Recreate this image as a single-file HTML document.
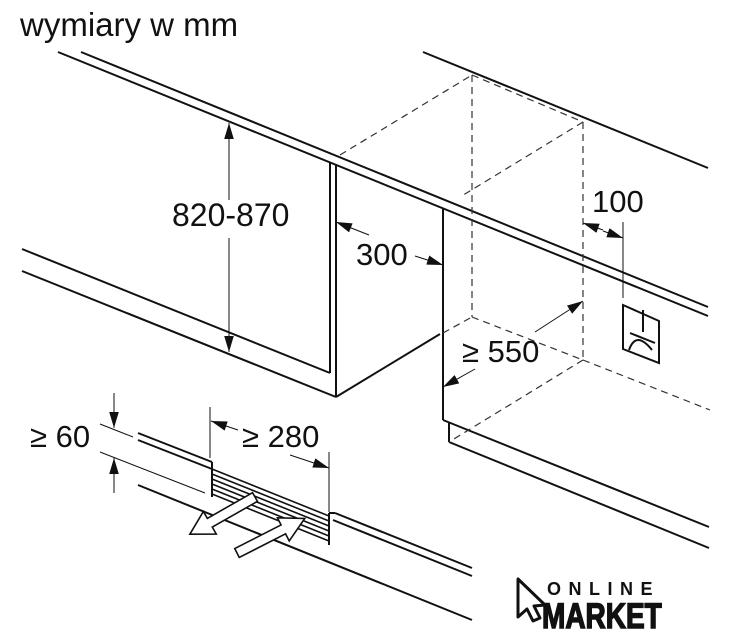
<!DOCTYPE html>
<html><head><meta charset="utf-8"><style>
html,body{margin:0;padding:0;background:#fff}
svg{display:block}
text{font-family:"Liberation Sans",sans-serif;fill:#111}
</style></head><body>
<svg width="730" height="640" viewBox="0 0 730 640" xmlns="http://www.w3.org/2000/svg">
<defs>
<marker id="ahL" viewBox="0 0 10 10" refX="10" refY="5" markerWidth="16" markerHeight="16" markerUnits="userSpaceOnUse" orient="auto"><path d="M0,2 L10,5 L0,8 Z" fill="#111"/></marker>
</defs>
<text x="20" y="36" font-size="33">wymiary w mm</text>

<g stroke="#111" stroke-width="2" fill="none">
<line x1="81" y1="52" x2="708" y2="307"/>
<line x1="58" y1="52" x2="708" y2="316"/>
<line x1="423" y1="52" x2="708" y2="168"/>
<line x1="330" y1="163" x2="330" y2="373"/>
<line x1="336" y1="165" x2="336" y2="397"/>
<line x1="22" y1="249" x2="330" y2="373"/>
<line x1="22" y1="271" x2="336" y2="397"/>
<line x1="336" y1="397" x2="440" y2="334"/>
<line x1="443" y1="208" x2="443" y2="420"/>
<line x1="443" y1="420" x2="709" y2="527"/>
<line x1="449" y1="422" x2="449" y2="442"/>
<line x1="449" y1="442" x2="709" y2="548"/>
<line x1="138" y1="433" x2="212" y2="462"/>
<line x1="138" y1="440" x2="212" y2="469"/>
<line x1="212" y1="462" x2="212" y2="497"/>
<line x1="138" y1="485" x2="472" y2="620"/>
<line x1="329" y1="513" x2="335" y2="513"/>
<line x1="335" y1="513" x2="472" y2="568"/>
<line x1="333" y1="520" x2="472" y2="576"/>
<line x1="329" y1="513" x2="329" y2="545"/>
</g>
<g stroke="#111" stroke-width="1.6">
<line x1="212" y1="469" x2="329" y2="516"/>
<line x1="212" y1="474" x2="329" y2="521"/>
<line x1="212" y1="479" x2="329" y2="526"/>
<line x1="212" y1="484" x2="329" y2="531"/>
<line x1="212" y1="489" x2="329" y2="536"/>
<line x1="212" y1="494" x2="329" y2="541"/>
</g>
<g stroke="#333" stroke-width="1.2" fill="none" stroke-dasharray="7,5">
<line x1="340" y1="155" x2="472" y2="75"/>
<line x1="472" y1="75" x2="583" y2="122"/>
<line x1="583" y1="122" x2="460" y2="197"/>
<line x1="472" y1="75" x2="472" y2="317"/>
<line x1="583" y1="122" x2="583" y2="360"/>
<line x1="472" y1="317" x2="583" y2="360"/>
<line x1="443" y1="333" x2="472" y2="317"/>
<line x1="583" y1="360" x2="710" y2="410"/>
<line x1="583" y1="360" x2="449" y2="442"/>
</g>
<g stroke="#111" stroke-width="1" fill="none">
<line x1="229" y1="200" x2="229" y2="123" marker-end="url(#ahL)"/>
<line x1="229" y1="238" x2="229" y2="352" marker-end="url(#ahL)"/>
<line x1="369" y1="235" x2="336" y2="222" marker-end="url(#ahL)"/>
<line x1="415" y1="256" x2="443" y2="265" marker-end="url(#ahL)"/>
<line x1="623" y1="222" x2="623" y2="298"/>
<line x1="603" y1="230" x2="583" y2="223" marker-end="url(#ahL)"/>
<line x1="603" y1="231" x2="623" y2="238" marker-end="url(#ahL)"/>
<line x1="535" y1="332" x2="583" y2="301" marker-end="url(#ahL)"/>
<line x1="475" y1="369" x2="443" y2="387" marker-end="url(#ahL)"/>
<line x1="114" y1="393" x2="114" y2="428" marker-end="url(#ahL)"/>
<line x1="114" y1="493" x2="114" y2="458" marker-end="url(#ahL)"/>
<line x1="100" y1="424" x2="133" y2="437"/>
<line x1="100" y1="452" x2="205" y2="493"/>
<line x1="210" y1="407" x2="210" y2="458"/>
<line x1="329" y1="452" x2="329" y2="512"/>
<line x1="238" y1="430" x2="211" y2="421" marker-end="url(#ahL)"/>
<line x1="290" y1="455" x2="329" y2="468" marker-end="url(#ahL)"/>
</g>
<g stroke="#111" stroke-width="2" fill="none">
<path d="M623,305 L659,321 L659,363 L623,349 Z"/>
<line x1="643" y1="310" x2="643" y2="332"/>
<line x1="630" y1="333" x2="655" y2="343"/>
<path d="M629,350 Q636,330 652,350"/>
</g>
<g fill="#fff" stroke="#111" stroke-width="1.6">
<path transform="translate(255,497) rotate(150.3)" d="M0,-5 L52,-5 L52,-13 L75,0 L52,13 L52,5 L0,5 Z"/>
<path transform="translate(237,553) rotate(-27)" d="M0,-5 L52,-5 L52,-13 L76,0 L52,13 L52,5 L0,5 Z"/>
</g>
<text x="172" y="226" font-size="32">820-870</text>
<text x="356" y="265" font-size="31">300</text>
<text x="592" y="212" font-size="31">100</text>
<text x="462" y="362" font-size="31">≥ 550</text>
<text x="30" y="447" font-size="31">≥ 60</text>
<text x="242" y="447" font-size="31">≥ 280</text>
<path d="M518,579 L518,617 L527,609 L533,621 L540,618 L534,606 L545,605 Z" fill="#fff" stroke="#111" stroke-width="3" stroke-linejoin="round"/>
<text x="547" y="595" font-size="18" font-weight="bold" letter-spacing="7.5">ONLINE</text>
<text x="0" y="0" font-size="35" font-weight="bold" stroke="#111" stroke-width="1.5" transform="translate(542,628) scale(0.8,1)">MARKET</text>
</svg>
</body></html>
